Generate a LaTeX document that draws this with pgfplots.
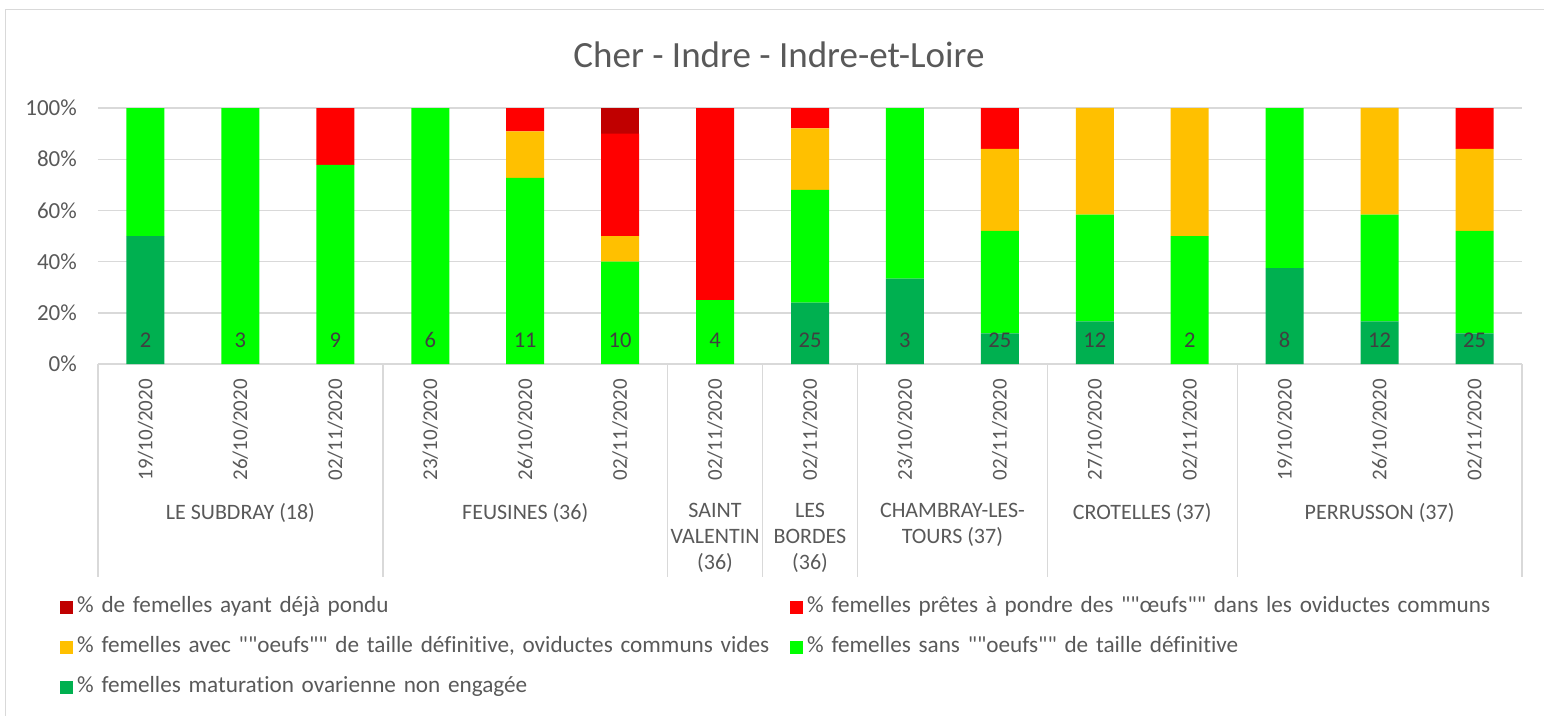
\documentclass[border=0pt]{standalone}
\usepackage{fontspec}
\setmainfont{Carlito}[Ligatures={TeXOff,NoCommon}]
\usepackage{pgfplots}
\pgfplotsset{compat=1.18}
\definecolor{cdg}{HTML}{00B050}
\definecolor{cg}{HTML}{00FF00}
\definecolor{co}{HTML}{FFC000}
\definecolor{cr}{HTML}{FF0000}
\definecolor{cdr}{HTML}{C00000}
\definecolor{txt}{HTML}{595959}
\definecolor{lab}{HTML}{404040}
\definecolor{gridc}{HTML}{D9D9D9}
\newcommand\tickfont{\fontsize{23}{27}\selectfont}
\newcommand\datefont{\fontsize{21}{25}\selectfont}
\newcommand\grpfont{\fontsize{22}{26}\selectfont}
\newcommand\legfont{\fontsize{23.2}{27}\selectfont}
\newcommand\numfont{\fontsize{22.5}{27}\selectfont}
\newcommand\titlefont{\fontsize{37}{44}\selectfont}
\pgfplotsset{sqleg/.style={legend image code/.code={\fill[##1] (0pt,-6.5pt) rectangle (13pt,6.5pt); \path (17pt,0pt);}}}
\begin{document}
\begin{tikzpicture}
\begin{axis}[
  at={(0pt,0pt)}, anchor=south west,
  scale only axis, width=1424pt, height=256pt,
  ybar stacked, bar width=38pt,
  xmin=-0.5, xmax=14.5, ymin=0, ymax=100,
  axis line style={draw=none},
  major tick length=0pt,
  ymajorgrids, grid style={draw=gridc, line width=1.4pt},
  ytick={0,20,40,60,80,100},
  yticklabels={0\%,20\%,40\%,60\%,80\%,100\%},
  yticklabel style={anchor=east, inner sep=0pt, xshift=-21pt, font=\tickfont, text=txt},
  xtick={0,...,14},
  xticklabels={19/10/2020,26/10/2020,02/11/2020,23/10/2020,26/10/2020,02/11/2020,02/11/2020,02/11/2020,23/10/2020,02/11/2020,27/10/2020,02/11/2020,19/10/2020,26/10/2020,02/11/2020},
  xticklabel style={yshift=-15pt, rotate=90, anchor=east, inner sep=0pt, font=\datefont, text=txt},
  clip=false,
  title={Cher - Indre - Indre-et-Loire},
  title style={at={(0.5,1)}, anchor=center, yshift=47pt, xshift=-31pt, font=\titlefont, text=txt},
  legend columns=2, reverse legend,
  legend style={at={(-0.02669,-0.9102)}, anchor=north west, draw=none, fill=none, inner sep=0pt, column sep=0pt, row sep=20pt,
    nodes={inner sep=0pt, text width=713pt, align=left, text height=15pt, text depth=5pt, font=\legfont, text=txt}},
]
\addplot[fill=cdg, draw=none, sqleg] coordinates {(0,50) (1,0) (2,0) (3,0) (4,0) (5,0) (6,0) (7,24) (8,33.33) (9,12) (10,16.67) (11,0) (12,37.5) (13,16.67) (14,12)};
\addlegendentry{\% femelles maturation ovarienne non engagée}
\addplot[fill=cg, draw=none, sqleg] coordinates {(0,50) (1,100) (2,77.78) (3,100) (4,72.73) (5,40) (6,25) (7,44) (8,66.67) (9,40) (10,41.67) (11,50) (12,62.5) (13,41.67) (14,40)};
\addlegendentry{\% femelles sans ""oeufs"" de taille définitive}
\addplot[fill=co, draw=none, sqleg] coordinates {(0,0) (1,0) (2,0) (3,0) (4,18.18) (5,10) (6,0) (7,24) (8,0) (9,32) (10,41.67) (11,50) (12,0) (13,41.67) (14,32)};
\addlegendentry{\% femelles avec ""oeufs"" de taille définitive, oviductes communs vides}
\addplot[fill=cr, draw=none, sqleg] coordinates {(0,0) (1,0) (2,22.22) (3,0) (4,9.09) (5,40) (6,75) (7,8) (8,0) (9,16) (10,0) (11,0) (12,0) (13,0) (14,16)};
\addlegendentry{\% femelles prêtes à pondre des ""œufs"" dans les oviductes communs}
\addplot[fill=cdr, draw=none, sqleg] coordinates {(0,0) (1,0) (2,0) (3,0) (4,0) (5,10) (6,0) (7,0) (8,0) (9,0) (10,0) (11,0) (12,0) (13,0) (14,0)};
\addlegendentry{\% de femelles ayant déjà pondu}
% group separators
\pgfplotsinvokeforeach{-0.5,2.5,5.5,6.5,7.5,9.5,11.5,14.5}{
  \draw[gridc, line width=1.4pt] (axis cs:#1,0) -- ++(0pt,-213pt);
}
\tikzset{glab/.style={anchor=north, inner sep=0pt, align=center, font=\grpfont, text=txt}}
\node[glab] at ([yshift=-139pt]axis cs:1,0) {LE SUBDRAY (18)};
\node[glab] at ([yshift=-139pt]axis cs:4,0) {FEUSINES (36)};
\node[glab] at ([yshift=-139pt]axis cs:6,0) {SAINT\\VALENTIN\\(36)};
\node[glab] at ([yshift=-139pt]axis cs:7,0) {LES\\BORDES\\(36)};
\node[glab] at ([yshift=-139pt]axis cs:8.5,0) {CHAMBRAY-LES-\\TOURS (37)};
\node[glab] at ([yshift=-139pt]axis cs:10.5,0) {CROTELLES (37)};
\node[glab] at ([yshift=-139pt]axis cs:13,0) {PERRUSSON (37)};
\end{axis}
\begin{axis}[
  at={(0pt,0pt)}, anchor=south west,
  scale only axis, width=1424pt, height=256pt,
  xmin=-0.5, xmax=14.5, ymin=0, ymax=100, hide axis, clip=false]
\addplot[draw=none, mark=none, nodes near coords, point meta=explicit symbolic,
  nodes near coords style={anchor=center, font=\numfont, text=lab}]
  coordinates {(0,9.4)[2] (1,9.4)[3] (2,9.4)[9] (3,9.4)[6] (4,9.4)[11] (5,9.4)[10] (6,9.4)[4] (7,9.4)[25] (8,9.4)[3] (9,9.4)[25] (10,9.4)[12] (11,9.4)[2] (12,9.4)[8] (13,9.4)[12] (14,9.4)[25]};
\end{axis}
\draw[gridc, line width=1.3pt] (-92.5pt,-360pt) rectangle (1453pt,354.5pt);
\pgfresetboundingbox
\path (-98pt,-351pt) rectangle (1446pt,364pt);
\end{tikzpicture}
\end{document}
